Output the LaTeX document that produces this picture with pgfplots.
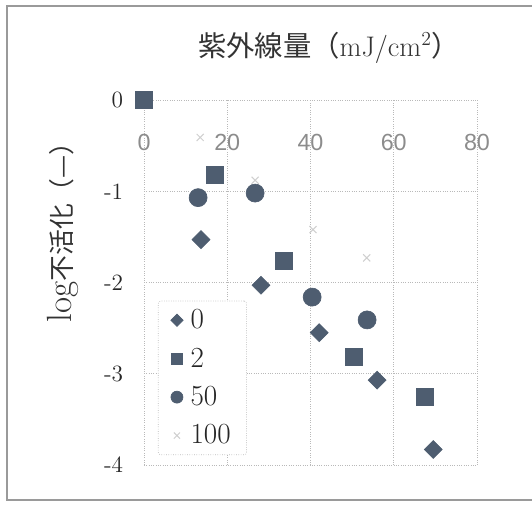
\documentclass[border=0pt]{standalone}
\usepackage{fontspec}
\usepackage{pgfplots}
\pgfplotsset{compat=1.18}
\newfontfamily\cjk{Noto Sans CJK JP}
\newfontfamily\arialsans{Liberation Sans}
\definecolor{markc}{HTML}{4E5D70}
\definecolor{crossc}{HTML}{CFCFCF}
\definecolor{framec}{HTML}{9A9A9A}
\begin{document}
\begin{tikzpicture}
\path[use as bounding box] (0pt,0pt) rectangle (319.2pt,303pt);
% chart area border
\draw[framec, line width=0.9pt] (319.2pt,3pt) -- (4.2pt,3pt) -- (4.2pt,299.4pt) -- (319.2pt,299.4pt);
\begin{axis}[
  at={(86.4pt,24pt)}, anchor=south west,
  scale only axis, width=199.8pt, height=219pt,
  xmin=0, xmax=80, ymin=-4, ymax=0,
  clip=false,
  axis line style={draw=none},
  major tick length=0pt,
  grid=major,
  major grid style={gray!55, densely dotted, line width=0.5pt},
  xtick={0,20,40,60,80},
  xticklabels={0,20,40,60,80},
  xticklabel pos=upper,
  xticklabel style={anchor=center, yshift=-25.6pt,
    font=\arialsans\fontsize{14}{16}\selectfont, text=gray!90},
  ytick={-4,-3,-2,-1,0},
  yticklabels={-4,-3,-2,-1,0},
  yticklabel style={anchor=east, xshift=-9pt,
    font=\fontsize{14}{16}\selectfont, text=black!85},
  title={{\cjk 紫外線量（}mJ/cm\textsuperscript{2}{\cjk ）}},
  title style={at={(axis description cs:0.556,1.092)}, anchor=base,
    yshift=0pt, font=\fontsize{17}{20}\selectfont, text=black!80},
  ylabel={{\fontsize{21}{24}\selectfont log}{\cjk 不活化（—）}},
  ylabel style={at={(axis description cs:-0.243,0.655)}, anchor=center,
    font=\fontsize{15.5}{19}\selectfont, text=black!80},
  legend style={at={(rel axis cs:0.042,0.027)}, anchor=south west,
    draw=gray!55, densely dotted, rounded corners=1.5pt,
    font=\fontsize{17.5}{19}\selectfont, text=black!85,
    row sep=6pt, column sep=2.5pt, inner xsep=7.5pt, inner ysep=3pt,
    legend cell align=left},
  legend image post style={solid},
]
% legend keys, drawn a little smaller than the data marks
\addlegendimage{only marks, mark=square*, mark size=2.6pt,
  mark options={rotate=45, fill=markc, draw=markc}}
\addlegendentry{0}
\addlegendimage{only marks, mark=square*, mark size=3.5pt,
  mark options={fill=markc, draw=markc}}
\addlegendentry{2}
\addlegendimage{only marks, mark=*, mark size=3.6pt,
  mark options={fill=markc, draw=markc}}
\addlegendentry{50}
\addlegendimage{only marks, mark=x, mark size=2.6pt,
  mark options={draw=crossc, line width=0.6pt}}
\addlegendentry{100}
% data series
\addplot[only marks, mark=square*, mark size=3.8pt, forget plot,
  mark options={rotate=45, fill=markc, draw=markc}]
  coordinates {(13.7,-1.53) (28.1,-2.03) (42.1,-2.55) (56.0,-3.07) (69.5,-3.83)};
\addplot[only marks, mark=square*, mark size=5.1pt, forget plot,
  mark options={fill=markc, draw=markc}]
  coordinates {(0,0) (17.1,-0.82) (33.7,-1.76) (50.5,-2.81) (67.5,-3.25)};
\addplot[only marks, mark=*, mark size=5.4pt, forget plot,
  mark options={fill=markc, draw=markc}]
  coordinates {(13.0,-1.07) (26.7,-1.02) (40.4,-2.16) (53.6,-2.41)};
\addplot[only marks, mark=x, mark size=3pt, forget plot,
  mark options={draw=crossc, line width=0.6pt}]
  coordinates {(13.5,-0.41) (26.7,-0.88) (40.6,-1.42) (53.5,-1.73)};
\end{axis}
\end{tikzpicture}
\end{document}
